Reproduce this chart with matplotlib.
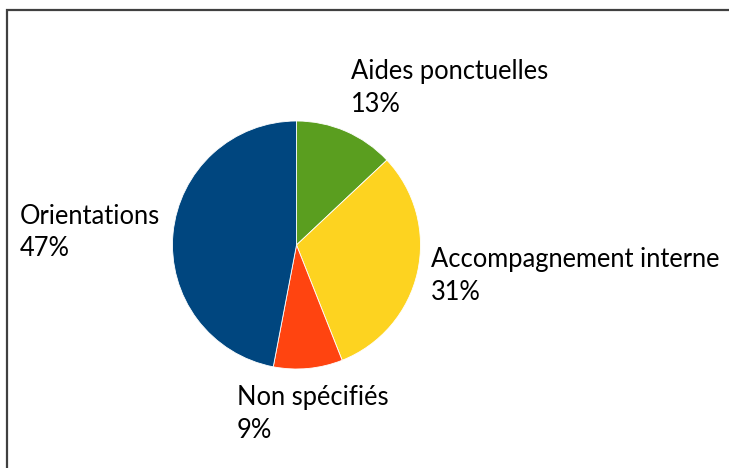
import matplotlib
matplotlib.use("Agg")
import matplotlib.pyplot as plt
from matplotlib.patches import Rectangle

# Répartition des suites données
categories = ["Aides ponctuelles", "Accompagnement interne", "Non spécifiés", "Orientations"]
values = [13, 31, 9, 47]
colors = ["#5A9E1F", "#FDD320", "#FF4410", "#00467F"]

# label anchor points (pixels from top-left)
label_pos = [(351, 88), (431, 276), (237, 414), (20, 232)]

W, H = 729, 468
fig = plt.figure(figsize=(W / 100, H / 100), dpi=100)
ax = fig.add_axes([0, 0, 1, 1])
ax.set_xlim(0, W)
ax.set_ylim(0, H)
ax.set_aspect("equal")
ax.axis("off")

# outer frame
ax.add_patch(Rectangle((7, -10), W + 10, H - 10 + 10, fill=False,
                       edgecolor="#404040", linewidth=1.6))

ax.pie(values, colors=colors, startangle=90, counterclock=False,
       center=(296.5, H - 245), radius=124,
       wedgeprops=dict(linewidth=0.6, edgecolor="white"))
ax.set_xlim(0, W)
ax.set_ylim(0, H)

total = sum(values)
for cat, v, (px, py) in zip(categories, values, label_pos):
    ax.text(px, H - py, f"{cat}\n{round(100 * v / total)}%",
            ha="left", va="center", fontsize=18.4, family="Lato",
            linespacing=1.35, color="#000000")

fig.savefig("out.png", dpi=100)
